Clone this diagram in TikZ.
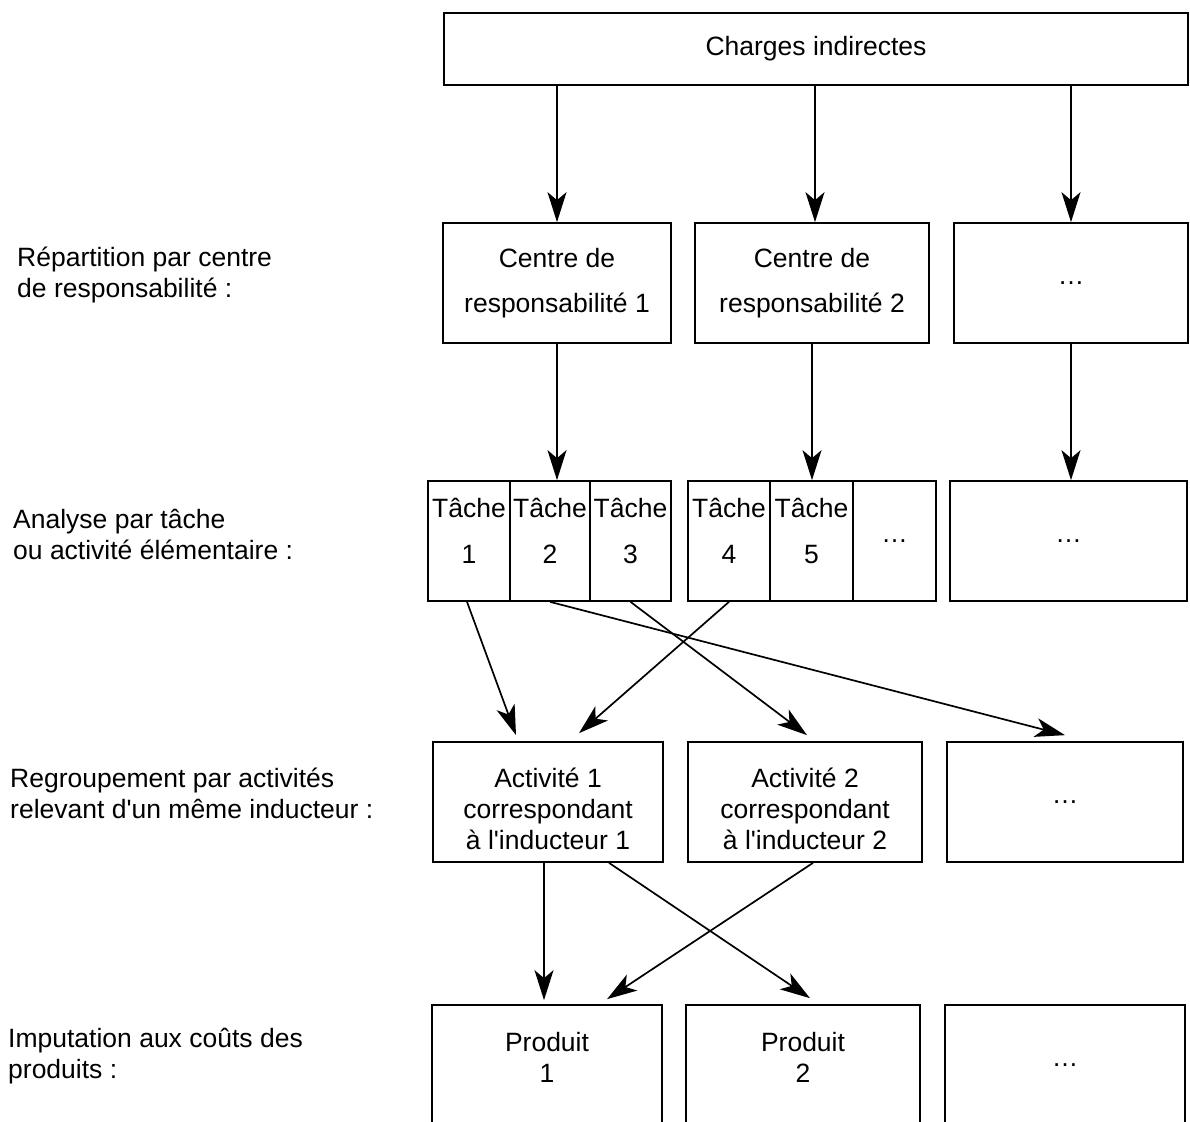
\documentclass[tikz,border=0pt]{standalone}
\usepackage{fontspec}
\setmainfont{Liberation Sans}
\usetikzlibrary{arrows.meta,calc}
\begin{document}
\begin{tikzpicture}[x=1pt,y=-1pt,
  every node/.style={font=\fontsize{26.5}{31}\selectfont},
  box/.style={draw, line width=1.7pt, rectangle, inner sep=0pt, align=center, minimum height=120pt},
  txt/.style={inner sep=0pt, align=center},
  lab/.style={anchor=west, align=left, inner sep=0pt},
  arr/.style={line width=1.7pt, -{Stealth[length=30pt,width=19pt,inset=8pt]}},
]
\useasboundingbox (0,0) rectangle (1190,1121);
\clip (0,0) rectangle (1190,1121);

% left labels
\node[lab] (l1) at (17,275) {Répartition par centre\\de responsabilité :};
\node[lab] (l2) at (13,534) {Analyse par tâche\\ou activité élémentaire :};
\node[lab] (l3) at (10,793) {Regroupement par activités\\relevant d\textquotesingle un même inducteur :};
\node[lab] (l4) at (8,1056) {Imputation aux coûts des\\produits :};

% top
\node[box, minimum width=744pt, minimum height=72pt] (top) at (816,49) {Charges indirectes};

% row 2
\node[box, minimum width=228pt] (c1) at (557,283) {Centre de\\[14pt]responsabilité 1};
\node[box, minimum width=234pt] (c2) at (812,283) {Centre de\\[14pt]responsabilité 2};
\node[box, minimum width=234pt] (c3) at (1071,283) {…};

% row 3
\node[box, minimum width=82pt] (t1) at (469,541) {};
\node[box, minimum width=80pt] (t2) at (550,541) {};
\node[box, minimum width=81pt] (t3) at (630.5,541) {};
\node[box, minimum width=82pt] (t4) at (729,541) {};
\node[box, minimum width=83pt] (t5) at (811.5,541) {};
\node[box, minimum width=83pt] (t6) at (894.5,541) {…};
\node[box, minimum width=237pt] (r3) at (1068.5,541) {…};
\foreach \n/\k in {t1/1,t2/2,t3/3,t4/4,t5/5}
  \node[txt] (\n txt) at ([yshift=10pt]\n.center) {Tâche\\[15pt]\k};

% row 4
\node[box, minimum width=230pt] (a1) at (548,802) {};
\node[box, minimum width=234pt] (a2) at (805,802) {};
\node[box, minimum width=236pt] (a3) at (1065,802) {…};
\node[txt] (a1txt) at ([yshift=-7pt]a1.center) {Activité 1\\correspondant\\à l\textquotesingle inducteur 1};
\node[txt] (a2txt) at ([yshift=-7pt]a2.center) {Activité 2\\correspondant\\à l\textquotesingle inducteur 2};

% row 5
\node[box, minimum width=230pt] (p1) at (547,1065) {};
\node[box, minimum width=234pt] (p2) at (803,1065) {};
\node[box, minimum width=240pt] (p3) at (1065,1065) {…};
\node[txt] (p1txt) at ([yshift=8pt]p1.center) {Produit\\1};
\node[txt] (p2txt) at ([yshift=8pt]p2.center) {Produit\\2};

% arrows top -> row 2
\draw[arr] (top.south -| c1.north) -- (c1.north);
\draw[arr] ([xshift=3pt]top.south -| c2.north) -- ([xshift=3pt]c2.north);
\draw[arr] (top.south -| c3.north) -- (c3.north);

% row 2 -> row 3
\draw[arr] (c1.south) -- (c1.south |- t2.north);
\draw[arr] (c2.south) -- (c2.south |- t5.north);
\draw[arr] (c3.south) -- (c3.south |- r3.north);

% row 3 -> row 4
\draw[arr] ([xshift=-2pt]t1.south) -- ([xshift=-32pt,yshift=6pt]a1.north);
\draw[arr] (t2.south) -- ([yshift=6pt]a3.north);
\draw[arr] (t3.south) -- ([xshift=2pt,yshift=6pt]a2.north);
\draw[arr] (t4.south) -- ([xshift=31pt,yshift=8pt]a1.north);

% row 4 -> row 5
\draw[arr] ([xshift=-4pt]a1.south) -- ([xshift=-3pt,yshift=4pt]p1.north);
\draw[arr] ([xshift=61pt]a1.south) -- ([xshift=7pt,yshift=6pt]p2.north);
\draw[arr] ([xshift=8pt]a2.south) -- ([xshift=60pt,yshift=5pt]p1.north);
\end{tikzpicture}
\end{document}
